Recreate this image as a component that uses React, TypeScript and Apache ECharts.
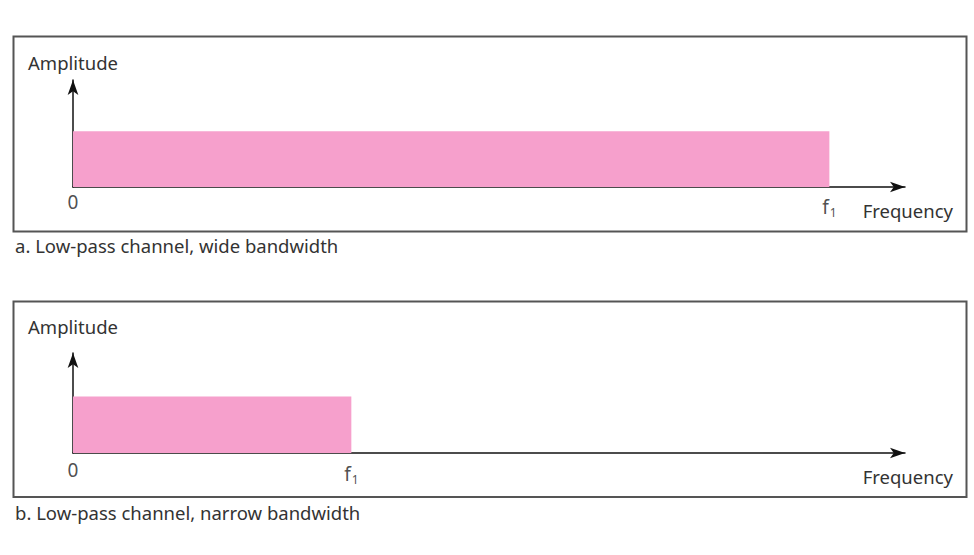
import React, { useEffect, useRef } from "react";
import * as echarts from "echarts";

// Data (relative units)
const panelCaptions = [
  "a. Low-pass channel, wide bandwidth",
  "b. Low-pass channel, narrow bandwidth",
];
const cutoffFrequency = [10, 3.68]; // f1 position on frequency axis
const passAmplitude = [1.04, 1.13]; // pass-band amplitude
const freqAxisMax = 11;
const ampAxisMax = 2;
const xTickLabels = ["0", "f1"];
const xAxisName = "Frequency";
const yAxisName = "Amplitude";

const PINK = "#f6a0cc";
const FONT = "Noto Sans";
const FS = 18.5;

export default function App() {
  const ref = useRef<HTMLDivElement>(null);
  useEffect(() => {
    if (!ref.current) return;
    const chart = echarts.init(ref.current, null, { renderer: "svg" });

    const grids = [
      { left: 73, right: 69, top: 80, height: 107 },
      { left: 73, right: 69, top: 353, height: 100 },
    ];
    const yNameGap = [8, 17];
    const zeroDist = [5, 7];
    const f1Dist = [9, 10];
    const boxes = [
      { x: 13.5, y: 36.5, width: 953, height: 195 },
      { x: 13.5, y: 301.5, width: 953, height: 195.5 },
    ];
    const captionY = [245, 512];

    const option: any = {
      animation: false,
      backgroundColor: "#fff",
      textStyle: { fontFamily: FONT },
      grid: grids.map((g) => ({ ...g, containLabel: false })),
      xAxis: grids.map((_, i) => ({
        type: "value",
        gridIndex: i,
        min: 0,
        max: freqAxisMax,
        splitLine: { show: false },
        axisTick: { show: false },
        axisLabel: { show: false },
        axisLine: {
          show: true,
          onZero: false,
          symbol: ["none", "arrow"],
          symbolSize: [8, 15],
          lineStyle: { color: "#111", width: 1.5 },
        },
        name: xAxisName,
        nameLocation: "end",
        nameGap: 48,
        nameTextStyle: {
          align: "right",
          verticalAlign: "top",
          padding: [14, 0, 0, 0],
          fontSize: FS,
          fontFamily: FONT,
          color: "#333",
        },
      })),
      yAxis: grids.map((_, i) => ({
        type: "value",
        gridIndex: i,
        min: 0,
        max: ampAxisMax,
        splitLine: { show: false },
        axisTick: { show: false },
        axisLabel: { show: false },
        axisLine: {
          show: true,
          symbol: ["none", "arrow"],
          symbolSize: [8, 15],
          lineStyle: { color: "#111", width: 1.5 },
        },
        name: yAxisName,
        nameLocation: "end",
        nameGap: yNameGap[i],
        nameTextStyle: {
          align: "center",
          fontSize: FS,
          fontFamily: FONT,
          color: "#333",
        },
      })),
      series: [
        ...grids.map((_, i) => ({
          type: "line",
          xAxisIndex: i,
          yAxisIndex: i,
          showSymbol: false,
          symbol: "none",
          silent: true,
          z: 1,
          lineStyle: { width: 0, color: PINK },
          areaStyle: { color: PINK, opacity: 1 },
          data: [
            [0, passAmplitude[i]],
            [cutoffFrequency[i], passAmplitude[i]],
          ],
        })),
        ...grids.map((_, i) => ({
          type: "scatter",
          xAxisIndex: i,
          yAxisIndex: i,
          symbolSize: 0,
          silent: true,
          z: 3,
          data: [
            { value: [0, 0, xTickLabels[0]], label: { distance: zeroDist[i] } },
            {
              value: [cutoffFrequency[i], 0, xTickLabels[1]],
              label: { distance: f1Dist[i] },
            },
          ],
          label: {
            show: true,
            position: "bottom",
            fontSize: 19,
            fontFamily: FONT,
            color: "#222",
            formatter: (p: any) => {
              const t = p.value[2] as string;
              return t.length === 1 ? t : `${t[0]}{s|${t.slice(1)}}`;
            },
            rich: {
              s: {
                fontSize: 12,
                fontFamily: FONT,
                color: "#222",
                padding: [10, 0, 0, 1],
              },
            },
          },
        })),
      ],
      graphic: [
        ...boxes.map((b) => ({
          type: "rect",
          shape: b,
          silent: true,
          z: -1,
          style: { fill: "none", stroke: "#555", lineWidth: 2 },
        })),
        ...panelCaptions.map((c, i) => ({
          type: "text",
          x: 15,
          y: captionY[i],
          silent: true,
          style: {
            text: c,
            fontSize: FS,
            fontFamily: FONT,
            fill: "#333",
            verticalAlign: "middle",
          },
        })),
      ],
    };
    chart.setOption(option);
    return () => chart.dispose();
  }, []);
  return (
    <div
      ref={ref}
      style={{ position: "fixed", left: 0, top: 0, width: 974, height: 555 }}
    />
  );
}
